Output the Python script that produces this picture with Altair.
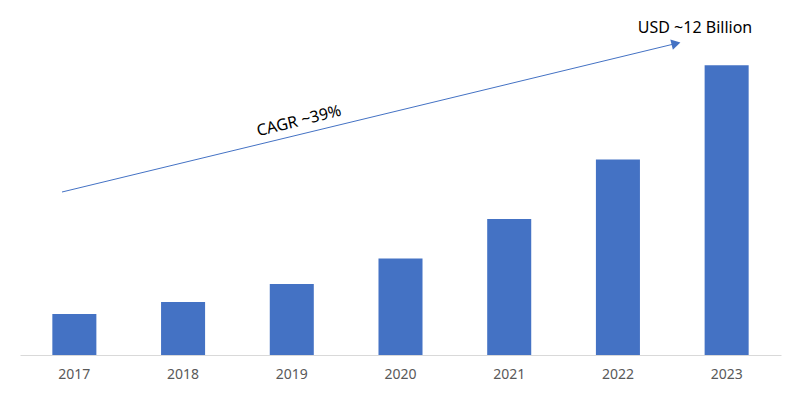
import altair as alt
import pandas as pd

years = ["2017", "2018", "2019", "2020", "2021", "2022", "2023"]
values = [1.7, 2.2, 2.94, 4.0, 5.63, 8.1, 12.0]
cagr_label = "CAGR ~39%"
end_label = "USD ~12 Billion"

df = pd.DataFrame({"year": years, "value": values})
one = pd.DataFrame({"k": [0]})

FONT = "Noto Sans"
BLUE = "#4472C4"

bars = alt.Chart(df).mark_bar(color=BLUE).encode(
    x=alt.X(
        "year:N",
        sort=years,
        title=None,
        scale=alt.Scale(paddingInner=0.595, paddingOuter=0.2975),
        axis=alt.Axis(
            labelAngle=0,
            labelFont=FONT,
            labelFontSize=14,
            labelColor="#595959",
            labelPadding=12,
            ticks=False,
            domainColor="#d9d9d9",
            domainWidth=1,
        ),
    ),
    y=alt.Y("value:Q", scale=alt.Scale(domain=[0, 14]), axis=None),
)

arrow_line = alt.Chart(one).mark_rule(color=BLUE, strokeWidth=1).encode(
    x=alt.value(42), y=alt.value(175), x2=alt.value(656), y2=alt.value(26.5)
)

arrow_head = alt.Chart(one).mark_point(
    shape="triangle-right", filled=True, color=BLUE, size=110, angle=346, opacity=1
).encode(x=alt.value(656), y=alt.value(26.5))

cagr_text = alt.Chart(one).mark_text(
    text=cagr_label, font=FONT, fontSize=16, color="#000000",
    angle=346, align="center", baseline="middle"
).encode(x=alt.value(279), y=alt.value(104))

end_text = alt.Chart(one).mark_text(
    text=end_label, font=FONT, fontSize=16, color="#000000",
    align="center", baseline="middle"
).encode(x=alt.value(675), y=alt.value(11))

chart = alt.layer(bars, arrow_line, arrow_head, cagr_text, end_text).properties(
    width=761,
    height=338,
    autosize=alt.AutoSizeParams(type="none"),
    padding={"left": 12, "top": 9, "right": 11, "bottom": 30},
    background="white",
).configure_view(stroke=None)

chart.save("out.html", embed_options={"renderer": "svg", "actions": False})
